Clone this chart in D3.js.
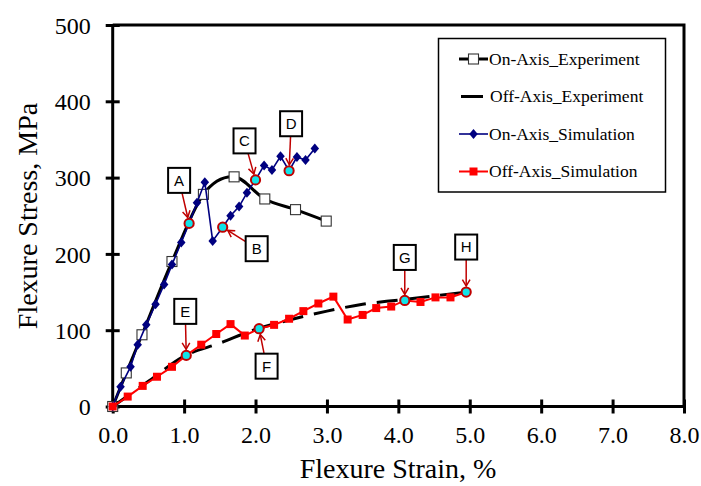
<!DOCTYPE html>
<html>
<head>
<meta charset="utf-8">
<script src="https://cdn.jsdelivr.net/npm/d3@7"></script>
<style>
  html, body { margin: 0; padding: 0; background: #fff; }
  svg { display: block; }
</style>
</head>
<body>
<svg id="chart" width="701" height="486"></svg>
<script>
// ---------- data ----------
const onExpStrain = [0, 0.19, 0.41, 0.83, 1.27, 1.70, 2.13, 2.56, 2.99];
const onExpStress = [0, 44, 94, 190, 278, 301, 272, 258, 243];

const offExpStrain = [0, 0.5, 1.0, 1.5, 2.0, 2.5, 3.0, 3.5, 4.0, 4.5, 4.95];
const offExpStress = [0, 33, 66, 83, 101, 114, 125, 134, 139.5, 145, 150];

const onSimStrain = [0, 0.11, 0.25, 0.35, 0.47, 0.60, 0.72, 0.83, 0.96, 1.07, 1.18, 1.29, 1.40, 1.54, 1.65, 1.77, 1.88, 2.00, 2.12, 2.23, 2.35, 2.47, 2.58, 2.70, 2.83];
const onSimStress = [0, 26, 52, 81, 107, 134, 160, 186, 215, 240, 267, 294, 217, 235, 250, 262, 280, 297, 316, 310, 328, 309, 327, 323, 338];

const offSimStrain = [0, 0.21, 0.42, 0.62, 0.83, 1.03, 1.24, 1.45, 1.65, 1.85, 2.05, 2.26, 2.47, 2.67, 2.88, 3.09, 3.29, 3.50, 3.69, 3.90, 4.09, 4.31, 4.52, 4.73, 4.95];
const offSimStress = [0, 13, 27, 39, 52, 67, 81, 95, 108, 93, 102, 107, 115, 125, 135, 144, 114, 120, 129, 131, 139, 137, 143, 143, 150];

const xTicks = [0, 1, 2, 3, 4, 5, 6, 7, 8];
const yTicks = [0, 100, 200, 300, 400, 500];

const seriesNames = ["On-Axis_Experiment", "Off-Axis_Experiment", "On-Axis_Simulation", "Off-Axis_Simulation"];

const calloutLabels = ["A", "B", "C", "D", "E", "F", "G", "H"];
const calloutSeries = ["onSim", "onSim", "onSim", "onSim", "offSim", "offSim", "offSim", "offSim"];
const calloutIndex  = [9, 13, 17, 21, 5, 10, 20, 24];

// ---------- layout (pixels) ----------
const calloutOffset = {
  A: [-10, -43], B: [34, 21.5], C: [-11, -39], D: [2, -47],
  E: [-1, -44], F: [7.5, 37.5], G: [0, -43], H: [0, -45]
};
const plot = { left: 112.7, right: 684, top: 25, bottom: 406.5 };

const svg = d3.select("#chart");
const x = d3.scaleLinear().domain([0, 8]).range([plot.left, plot.right]);
const y = d3.scaleLinear().domain([0, 500]).range([plot.bottom, plot.top]);

const zip = (a, b) => a.map((v, i) => [v, b[i]]);
const onExp = zip(onExpStrain, onExpStress);
const offExp = zip(offExpStrain, offExpStress);
const onSim = zip(onSimStrain, onSimStress);
const offSim = zip(offSimStrain, offSimStress);
const seriesData = { onSim, offSim };

const serif = "'Liberation Serif', 'Times New Roman', serif";

// ---------- frame (top & right) ----------
svg.append("path")
  .attr("d", `M${plot.left},${plot.top} H${plot.right} V${plot.bottom}`)
  .attr("fill", "none").attr("stroke", "#000").attr("stroke-width", 3);

// ---------- axes ----------
const xAxis = d3.axisBottom(x).tickValues(xTicks).tickFormat(d3.format(".1f")).tickSize(7).tickSizeOuter(0);
const gx = svg.append("g").attr("transform", `translate(0,${plot.bottom})`).call(xAxis);
gx.select(".domain").attr("stroke-width", 3).attr("d", `M${plot.left},0H${plot.right}`);
gx.selectAll(".tick line").attr("y1", -7).attr("y2", 7).attr("stroke-width", 3);
gx.selectAll(".tick text").attr("y", 36).attr("dy", 0)
  .style("font-family", serif).style("font-size", "24px").attr("fill", "#000");

const yAxis = d3.axisLeft(y).tickValues(yTicks).tickFormat(d3.format("d")).tickSize(7).tickSizeOuter(0);
const gy = svg.append("g").attr("transform", `translate(${plot.left},0)`).call(yAxis);
gy.select(".domain").attr("stroke-width", 3).attr("d", `M0,${plot.bottom}V${plot.top}`);
gy.selectAll(".tick line").attr("x1", -7).attr("x2", 7).attr("stroke-width", 3);
gy.selectAll(".tick text").attr("x", -22).attr("dy", "0.34em")
  .style("font-family", serif).style("font-size", "24px").attr("fill", "#000");
svg.selectAll(".tick text").style("font-family", serif);
gx.attr("font-family", null); gy.attr("font-family", null);

// axis titles
svg.append("text").attr("x", 398).attr("y", 478).attr("text-anchor", "middle")
  .style("font-family", serif).style("font-size", "28px").text("Flexure Strain, %");
svg.append("text").attr("transform", "translate(37,216) rotate(-90)").attr("text-anchor", "middle")
  .style("font-family", serif).style("font-size", "28px").text("Flexure Stress, MPa");

// ---------- series ----------
const smooth = d3.line().x(d => x(d[0])).y(d => y(d[1])).curve(d3.curveCatmullRom.alpha(0));
const straight = d3.line().x(d => x(d[0])).y(d => y(d[1]));

const diamond = (cx, cy, r) => `M${cx},${cy - r}L${cx + r * 0.85},${cy}L${cx},${cy + r}L${cx - r * 0.85},${cy}Z`;

// On-Axis_Experiment
svg.append("path").attr("d", smooth(onExp)).attr("fill", "none").attr("stroke", "#000").attr("stroke-width", 3);
svg.append("g").selectAll("rect").data(onExp).join("rect")
  .attr("x", d => x(d[0]) - 5).attr("y", d => y(d[1]) - 5).attr("width", 10).attr("height", 10)
  .attr("fill", "#fff").attr("stroke", "#333").attr("stroke-width", 1.1);

// Off-Axis_Experiment
svg.append("path").attr("d", smooth(offExp)).attr("fill", "none").attr("stroke", "#000")
  .attr("stroke-width", 3).attr("stroke-dasharray", "21,11");

// On-Axis_Simulation
const skipOn = new Set(calloutIndex.filter((d, i) => calloutSeries[i] === "onSim"));
const skipOff = new Set(calloutIndex.filter((d, i) => calloutSeries[i] === "offSim"));
svg.append("path").attr("d", straight(onSim)).attr("fill", "none").attr("stroke", "#000080").attr("stroke-width", 1.6);
svg.append("g").selectAll("path").data(onSim.filter((d, i) => !skipOn.has(i))).join("path")
  .attr("d", d => diamond(x(d[0]), y(d[1]), 5)).attr("fill", "#000080");

// Off-Axis_Simulation
svg.append("path").attr("d", straight(offSim)).attr("fill", "none").attr("stroke", "#ff0000").attr("stroke-width", 2);
svg.append("g").selectAll("rect").data(offSim.filter((d, i) => !skipOff.has(i))).join("rect")
  .attr("x", d => x(d[0]) - 4).attr("y", d => y(d[1]) - 4).attr("width", 8).attr("height", 8)
  .attr("fill", "#ff0000");

// ---------- callouts ----------
const defs = svg.append("defs");
defs.append("marker").attr("id", "arr").attr("markerUnits", "userSpaceOnUse")
  .attr("viewBox", "-8 -5 10 10").attr("refX", 0).attr("refY", 0)
  .attr("markerWidth", 10).attr("markerHeight", 10).attr("orient", "auto")
  .append("path").attr("d", "M-6.5,-3.8L0,0L-6.5,3.8").attr("fill", "none")
  .attr("stroke", "#c00000").attr("stroke-width", 1.5);

const bw = 22, bh = 25;
calloutLabels.forEach((lab, i) => {
  const p = seriesData[calloutSeries[i]][calloutIndex[i]];
  const px = x(p[0]), py = y(p[1]);
  const off = calloutOffset[lab];
  const cx = px + off[0], cy = py + off[1];
  // start on box edge
  const dx = px - cx, dy = py - cy;
  const tx = dx !== 0 ? (bw / 2) / Math.abs(dx) : Infinity;
  const ty = dy !== 0 ? (bh / 2) / Math.abs(dy) : Infinity;
  const t0 = Math.min(tx, ty);
  const sx = cx + dx * t0, sy = cy + dy * t0;
  const len = Math.hypot(dx, dy);
  const ex = px - dx / len * 6, ey = py - dy / len * 6;
  svg.append("line").attr("x1", sx).attr("y1", sy).attr("x2", ex).attr("y2", ey)
    .attr("stroke", "#c00000").attr("stroke-width", 1.5).attr("marker-end", "url(#arr)");
  svg.append("circle").attr("cx", px).attr("cy", py).attr("r", 4.6)
    .attr("fill", "#11e3e8").attr("stroke", "#c00000").attr("stroke-width", 2);
  svg.append("rect").attr("x", cx - bw / 2).attr("y", cy - bh / 2).attr("width", bw).attr("height", bh)
    .attr("fill", "#fff").attr("stroke", "#000").attr("stroke-width", 2);
  svg.append("text").attr("x", cx).attr("y", cy).attr("dy", "0.36em").attr("text-anchor", "middle")
    .style("font-family", "'Liberation Sans', Arial, sans-serif").style("font-size", "15px").text(lab);
});

// ---------- legend ----------
const lg = svg.append("g");
lg.append("rect").attr("x", 438.5).attr("y", 38.5).attr("width", 227).attr("height", 153.5)
  .attr("fill", "#fff").attr("stroke", "#000").attr("stroke-width", 1.5);
const legY = [59, 96.5, 134, 171.5];
const legStroke = ["#000", "#000", "#000080", "#ff0000"];
const legWidth = [3, 3, 1.6, 2];
seriesNames.forEach((name, i) => {
  const ly = legY[i];
  lg.append("line").attr("x1", i === 1 ? 461 : 459).attr("x2", i === 1 ? 483 : 488).attr("y1", ly).attr("y2", ly)
    .attr("stroke", legStroke[i]).attr("stroke-width", legWidth[i]);
  if (i === 0) lg.append("rect").attr("x", 468.5).attr("y", ly - 5).attr("width", 10).attr("height", 10)
    .attr("fill", "#fff").attr("stroke", "#333").attr("stroke-width", 1.1);
  if (i === 2) lg.append("path").attr("d", diamond(473.5, ly, 5)).attr("fill", "#000080");
  if (i === 3) lg.append("rect").attr("x", 469.5).attr("y", ly - 4).attr("width", 8).attr("height", 8).attr("fill", "#ff0000");
  lg.append("text").attr("x", i === 1 ? 490 : 489).attr("y", ly).attr("dy", "0.33em")
    .style("font-family", serif).style("font-size", "17.5px").text(name);
});
</script>
</body>
</html>
